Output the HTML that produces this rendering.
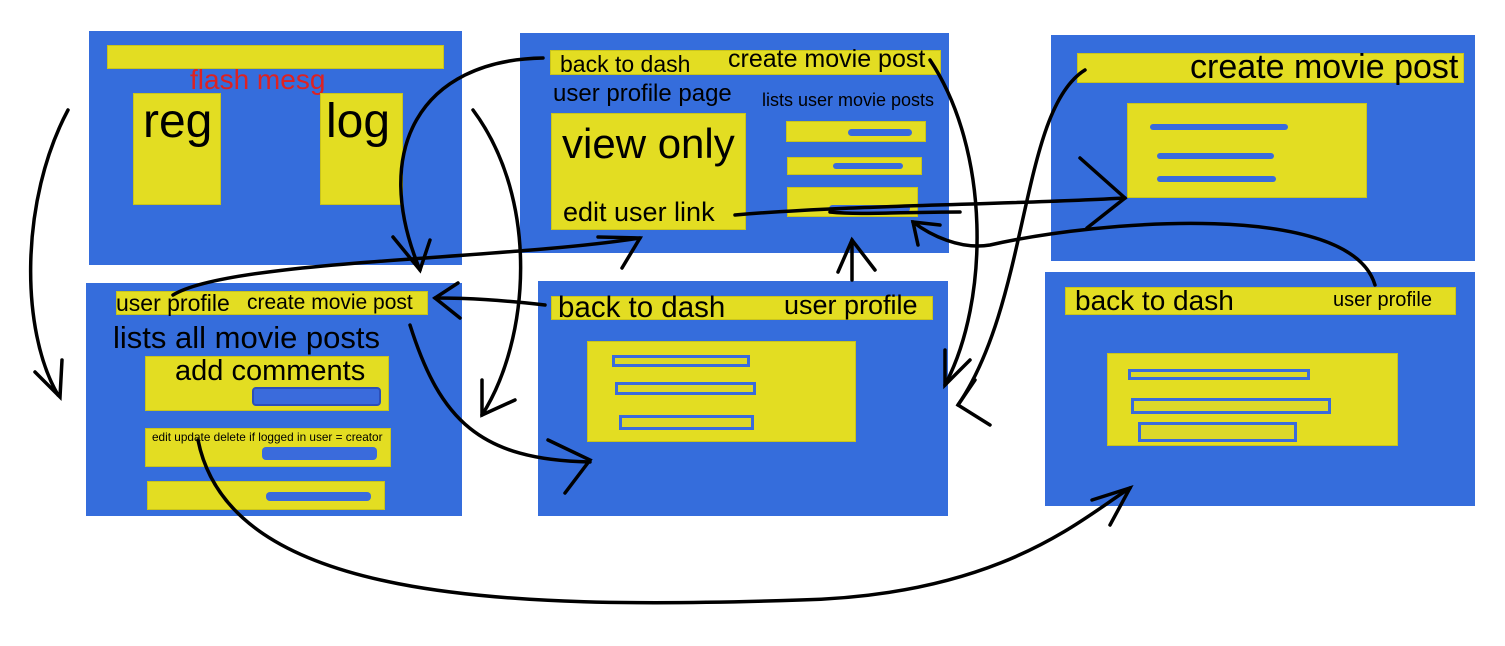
<!DOCTYPE html>
<html><head><meta charset="utf-8">
<style>
body{margin:0;width:1505px;height:646px;background:#fff;position:relative;overflow:hidden;font-family:"Liberation Sans",sans-serif;}
div{position:absolute;box-sizing:border-box;}
.p{background:#356ddc;}
.y{background:#e3dd22;border:1px solid #c9c41c;}
.b{background:#3a6bdc;border-radius:4px;}
.o{border:3px solid #3a6bdc;background:#dcd82a;}
.t{white-space:nowrap;color:#000;line-height:1;}
svg{position:absolute;left:0;top:0;}
</style></head><body>
<!-- panel 1 -->
<div class="p" style="left:89px;top:31px;width:373px;height:234px"></div>
<div class="y" style="left:107px;top:45px;width:337px;height:24px"></div>
<div class="t" style="left:190px;top:66px;font-size:28px;color:#d22">flash mesg</div>
<div class="y" style="left:133px;top:93px;width:88px;height:112px"></div>
<div class="y" style="left:320px;top:93px;width:83px;height:112px"></div>
<div class="t" style="left:143px;top:98px;font-size:48px">reg</div>
<div class="t" style="left:326px;top:98px;font-size:48px">log</div>
<!-- panel 2 -->
<div class="p" style="left:520px;top:33px;width:429px;height:220px"></div>
<div class="y" style="left:550px;top:50px;width:391px;height:25px"></div>
<div class="t" style="left:560px;top:53px;font-size:23px">back to dash</div>
<div class="t" style="left:728px;top:47px;font-size:25px">create movie post</div>
<div class="t" style="left:553px;top:82px;font-size:24px">user profile page</div>
<div class="t" style="left:762px;top:91px;font-size:18px">lists user movie posts</div>
<div class="y" style="left:551px;top:113px;width:195px;height:117px"></div>
<div class="t" style="left:562px;top:123px;font-size:42px">view only</div>
<div class="t" style="left:563px;top:199px;font-size:27px">edit user link</div>
<div class="y" style="left:786px;top:121px;width:140px;height:21px"></div>
<div class="b" style="left:848px;top:129px;width:64px;height:7px"></div>
<div class="y" style="left:787px;top:157px;width:135px;height:18px"></div>
<div class="b" style="left:833px;top:163px;width:70px;height:6px"></div>
<div class="y" style="left:787px;top:187px;width:131px;height:30px"></div>
<div class="b" style="left:829px;top:205px;width:81px;height:7px"></div>
<!-- panel 3 -->
<div class="p" style="left:1051px;top:35px;width:424px;height:226px"></div>
<div class="y" style="left:1077px;top:53px;width:387px;height:30px"></div>
<div class="t" style="left:1190px;top:50px;font-size:34px">create movie post</div>
<div class="y" style="left:1127px;top:103px;width:240px;height:95px"></div>
<div class="b" style="left:1150px;top:124px;width:138px;height:6px"></div>
<div class="b" style="left:1157px;top:153px;width:117px;height:6px"></div>
<div class="b" style="left:1157px;top:176px;width:119px;height:6px"></div>
<!-- panel 4 -->
<div class="p" style="left:86px;top:283px;width:376px;height:233px"></div>
<div class="y" style="left:116px;top:291px;width:312px;height:24px"></div>
<div class="t" style="left:116px;top:292px;font-size:23px">user profile</div>
<div class="t" style="left:247px;top:292px;font-size:21px">create movie post</div>
<div class="t" style="left:113px;top:322px;font-size:31px">lists all movie posts</div>
<div class="y" style="left:145px;top:356px;width:244px;height:55px"></div>
<div class="t" style="left:175px;top:357px;font-size:29px">add comments</div>
<div class="b" style="left:252px;top:387px;width:129px;height:19px;border:2px solid #2d4fb8"></div>
<div class="y" style="left:145px;top:428px;width:246px;height:39px"></div>
<div class="t" style="left:152px;top:432px;font-size:11.8px">edit update delete if logged in user = creator</div>
<div class="b" style="left:262px;top:447px;width:115px;height:13px"></div>
<div class="y" style="left:147px;top:481px;width:238px;height:29px"></div>
<div class="b" style="left:266px;top:492px;width:105px;height:9px"></div>
<!-- panel 5 -->
<div class="p" style="left:538px;top:281px;width:410px;height:235px"></div>
<div class="y" style="left:551px;top:296px;width:382px;height:24px"></div>
<div class="t" style="left:558px;top:293px;font-size:29.5px">back to dash</div>
<div class="t" style="left:784px;top:292px;font-size:27px">user profile</div>
<div class="y" style="left:587px;top:341px;width:269px;height:101px"></div>
<div class="o" style="left:612px;top:355px;width:138px;height:12px"></div>
<div class="o" style="left:615px;top:382px;width:141px;height:13px"></div>
<div class="o" style="left:619px;top:415px;width:135px;height:15px"></div>
<!-- panel 6 -->
<div class="p" style="left:1045px;top:272px;width:430px;height:234px"></div>
<div class="y" style="left:1065px;top:287px;width:391px;height:28px"></div>
<div class="t" style="left:1075px;top:287px;font-size:28px">back to dash</div>
<div class="t" style="left:1333px;top:290px;font-size:20px">user profile</div>
<div class="y" style="left:1107px;top:353px;width:291px;height:93px"></div>
<div class="o" style="left:1128px;top:369px;width:182px;height:11px"></div>
<div class="o" style="left:1131px;top:398px;width:200px;height:16px"></div>
<div class="o" style="left:1138px;top:422px;width:159px;height:20px"></div>

<svg width="1505" height="646" fill="none" stroke="#000" stroke-width="3.5" stroke-linecap="round">
<path d="M68,110 C20,200 20,330 58,395"/><path d="M35,372 L60,397 L62,360"/>
<path d="M543,58 C420,60 370,150 420,270"/><path d="M393,237 L420,270 L430,240"/>
<path d="M473,110 C540,200 530,340 482,415"/><path d="M482,380 L482,415 L515,400"/>
<path d="M545,305 C500,300 470,298 435,298"/><path d="M458,283 L435,298 L460,318"/>
<path d="M173,295 C230,260 500,260 640,238"/><path d="M598,237 L640,238 L622,268"/>
<path d="M410,325 C440,420 480,460 590,462"/><path d="M548,440 L590,460 L565,493"/>
<path d="M198,440 C230,600 500,610 800,600 C1000,595 1080,520 1130,488"/><path d="M1092,500 L1130,488 L1110,525"/>
<path d="M735,215 C850,205 1000,205 1125,198"/><path d="M1080,158 L1125,198 L1087,228"/>
<path d="M960,212 C900,212 860,215 830,212"/>
<path d="M1375,285 C1350,200 1100,220 990,245 C960,250 930,235 913,222"/><path d="M918,245 L913,222 L940,225"/>
<path d="M852,280 L852,240"/><path d="M838,272 L852,240 L875,270"/>
<path d="M930,60 C990,150 990,300 945,385"/><path d="M945,350 L945,385 L970,360"/>
<path d="M1085,70 C1020,110 1030,300 958,405"/><path d="M975,380 L958,405 L990,425"/>
</svg>
</body></html>
